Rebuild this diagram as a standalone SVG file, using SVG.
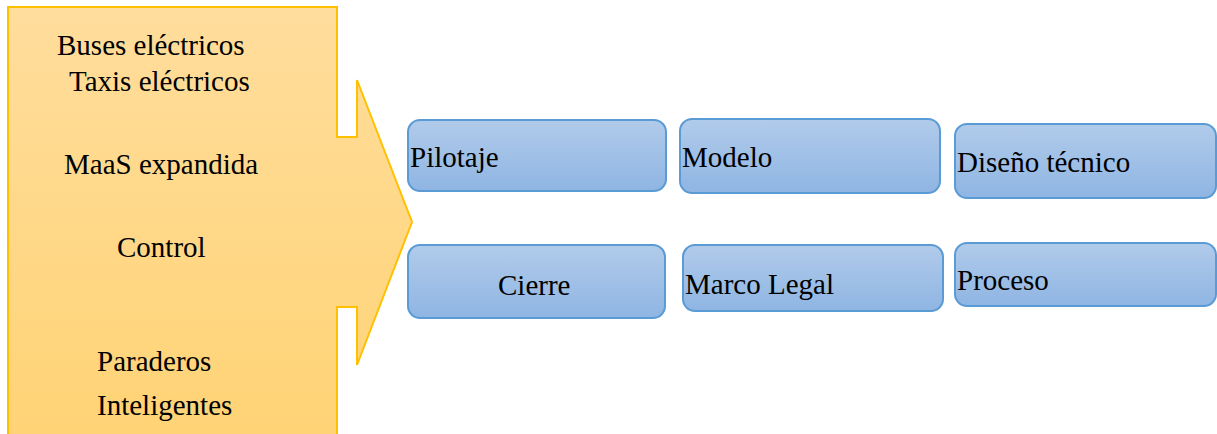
<svg xmlns="http://www.w3.org/2000/svg" width="1217" height="434" viewBox="0 0 1217 434">
<defs>
<linearGradient id="gOrange" x1="0" y1="0" x2="0" y2="1">
<stop offset="0" stop-color="#FFDD9C"/>
<stop offset="1" stop-color="#FFD375"/>
</linearGradient>
<linearGradient id="gBlue" x1="0" y1="0" x2="0" y2="1">
<stop offset="0" stop-color="#B1CBEA"/>
<stop offset="1" stop-color="#8FB5E3"/>
</linearGradient>
<style>
text { font-family: "Liberation Serif", "Times New Roman", serif; font-size: 29px; fill: #000; }
.box { fill: url(#gBlue); stroke: #5B9BD5; stroke-width: 2; }
.arrow { fill: url(#gOrange); stroke: #FFC000; stroke-width: 2; }
</style>
</defs>
<g id="arrow-node">
<path class="arrow" d="M8,440 L8,7 L337,7 L337,137 L357,137 L357,80 L412,222 L357,365 L357,307 L337,307 L337,440"/>
<text x="57" y="55">Buses eléctricos</text>
<text x="69" y="91">Taxis eléctricos</text>
<text x="64" y="174">MaaS expandida</text>
<text x="117" y="257">Control</text>
<text x="97" y="371">Paraderos</text>
<text x="97" y="415">Inteligentes</text>
</g>
<g id="pilotaje">
<rect class="box" x="408" y="120" width="258" height="71" rx="12"/>
<text x="410" y="167">Pilotaje</text>
</g>
<g id="modelo">
<rect class="box" x="680" y="119" width="260" height="74" rx="12"/>
<text x="682" y="167">Modelo</text>
</g>
<g id="diseno">
<rect class="box" x="955" y="124" width="261" height="74" rx="12"/>
<text x="957" y="172">Diseño técnico</text>
</g>
<g id="cierre">
<rect class="box" x="408" y="245" width="257" height="73" rx="12"/>
<text x="498" y="295">Cierre</text>
</g>
<g id="marco">
<rect class="box" x="683" y="245" width="260" height="66" rx="12"/>
<text x="685" y="294">Marco Legal</text>
</g>
<g id="proceso">
<rect class="box" x="955" y="243" width="261" height="63" rx="12"/>
<text x="957" y="290">Proceso</text>
</g>
<g id="connectors"></g>
</svg>
